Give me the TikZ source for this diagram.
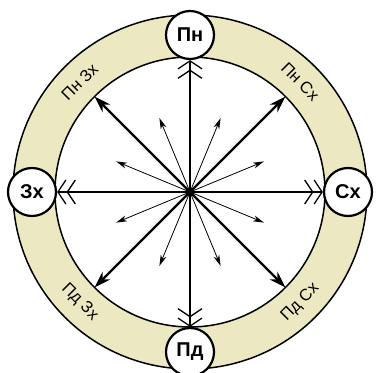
\documentclass[tikz,border=0pt]{standalone}
\usepackage{fontspec}
\setmainfont{Liberation Sans}
\usepackage{xcolor}
\usepackage{tikz}
\usetikzlibrary{arrows.meta,positioning}
\definecolor{anillo}{RGB}{236,233,194}
\tikzset{
  lado/.style={circle,draw=black,line width=2.2pt,fill=white,minimum size=48pt,inner sep=0pt,font=\fontsize{20}{20}\selectfont\bfseries},
  eje/.style={line width=1.3pt,-{Straight Barb[length=8pt,width=24pt,line width=1.3pt]Straight Barb[length=8pt,width=24pt,line width=1.3pt]}},
  diag/.style={line width=2.4pt,-{Stealth[length=17pt,width=11pt]}},
  fina/.style={line width=0.8pt,-{Stealth[length=11pt,width=6pt]}},
  rotulo/.style={font=\fontsize{16.5}{16.5}\selectfont,inner sep=1pt}
}

\begin{document}
\begin{tikzpicture}[x=1pt,y=1pt]
\useasboundingbox (-190,-180) rectangle (187,192);
% anillo
\fill[anillo,even odd rule] (0,0) circle (177pt) (0,0) circle (135pt);
\draw[line width=1.5pt] (0,0) circle (177pt);
\draw[line width=1.5pt] (0,0) circle (135pt);
\coordinate (o) at (0,0);
% lados del horizonte
\node[lado] (pn) at (90:157pt) {Пн};
\node[lado] (sx) at (0:158pt) {Сх};
\node[lado] (pd) at (270:160pt) {Пд};
\node[lado] (zx) at (180:158pt) {Зх};
% rotulos intermedios
\node[rotulo,rotate=-45] (pnsx) at (45:156pt) {Пн Сх};
\node[rotulo,rotate=45] (pnzx) at (135:156pt) {Пн Зх};
\node[rotulo,rotate=-45] (pdzx) at (225:156pt) {Пд Зх};
\node[rotulo,rotate=45] (pdsx) at (315:156pt) {Пд Сх};
% flechas
\foreach \l in {pn,sx,pd,zx}
  \draw[eje] (o) -- (\l);
\foreach \a in {45,135,225,315}{
  \coordinate (d\a) at (\a:135pt);
  \draw[diag] (o) -- (d\a);
}
\foreach \a [count=\i] in {22.5,67.5,...,337.5}{
  \coordinate (f\i) at (\a:80pt);
  \draw[fina] (o) -- (f\i);
}
\end{tikzpicture}
\end{document}
